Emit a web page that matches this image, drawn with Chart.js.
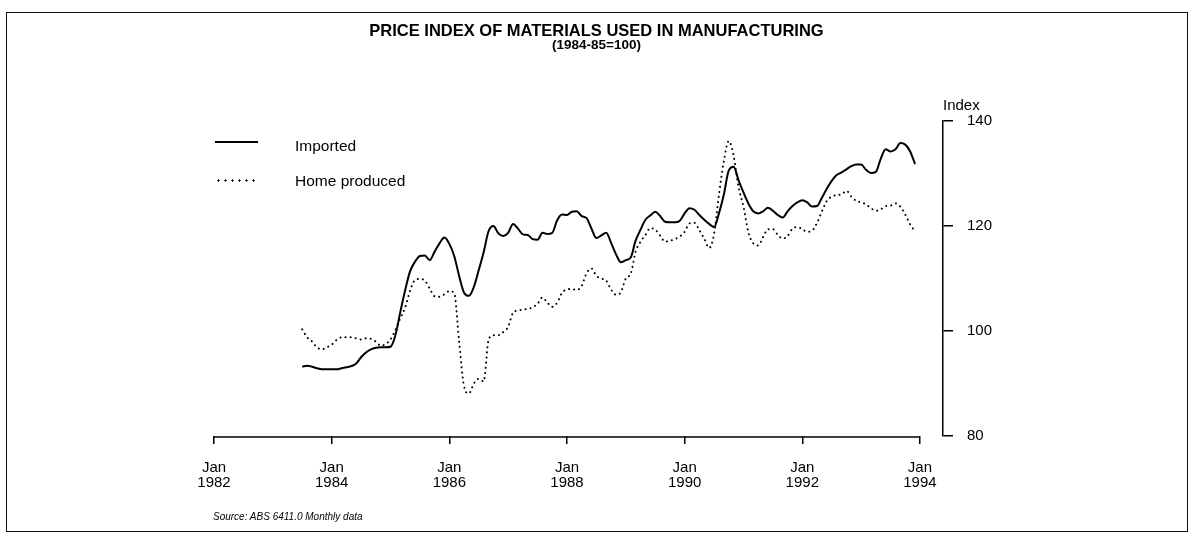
<!DOCTYPE html>
<html lang="en">
<head>
<meta charset="UTF-8">
<title>Price index of materials used in manufacturing</title>
<script src="https://cdn.jsdelivr.net/npm/chart.js"></script>
<style>
  html, body { margin: 0; padding: 0; background: #fff; }
  #wrap { position: relative; width: 1193px; height: 533px; font-family: "Liberation Sans", Arial, sans-serif; color: #000; }
  #frame { position: absolute; left: 6px; top: 12px; width: 1182px; height: 520px; border: 1.5px solid #111; box-sizing: border-box; }
  #chart { position: absolute; left: 0; top: 0; }
  .txt { position: absolute; white-space: nowrap; line-height: 16px; }
  .title { left: 0; width: 1193px; text-align: center; font-weight: bold; }
  .key { position: absolute; left: 215px; width: 43px; }
</style>
</head>
<body>
<div id="wrap">
  <div id="frame"></div>
  <canvas id="chart" width="1193" height="533"></canvas>

  <div class="txt title" style="top:22px; font-size:16.5px">PRICE INDEX OF MATERIALS USED IN MANUFACTURING</div>
  <div class="txt title" style="top:37px; font-size:13.5px">(1984-85=100)</div>

  <!-- legend -->
  <div class="key" style="top:141px; border-top:2px solid #000"></div>
  <div class="txt" style="left:295px; top:138px; font-size:15.5px">Imported</div>
  <div class="key" style="top:179px; height:3px; background:radial-gradient(circle, #000 0.9px, transparent 1.3px) 0 0/7px 3px repeat-x"></div>
  <div class="txt" style="left:295px; top:173px; font-size:15.5px">Home produced</div>

  <div class="txt" style="left:943px; top:97px; font-size:15px">Index</div>
  <div class="txt" style="left:213px; top:509px; font-size:10px; font-style:italic">Source: ABS 6411.0 Monthly data</div>
</div>

<script>
  // months counted from Jan 1982; first value is Jul 1983
  const startMonth = 18;

  const imported = [
    93.2, 93.4, 93.2, 92.9, 92.7, 92.7, 92.7, 92.7, 92.9, 93.1,
    93.3, 93.8, 95.0, 95.9, 96.5, 96.8, 96.9, 96.9, 97.0, 99.2,
    103.6, 107.8, 111.4, 113.2, 114.3, 114.4, 113.5, 115.1, 116.7, 117.8,
    116.6, 114.3, 110.5, 107.3, 106.7, 108.4, 111.6, 115.0, 119.0, 120.0,
    118.6, 118.1, 118.7, 120.4, 119.5, 118.4, 118.3, 117.5, 117.4, 118.7,
    118.5, 118.7, 121.1, 122.2, 122.1, 122.7, 122.8, 121.9, 121.5, 119.5,
    117.7, 118.2, 118.7, 116.8, 114.6, 113.1, 113.5, 114.0, 117.2, 119.3,
    121.2, 122.0, 122.7, 121.9, 120.8, 120.7, 120.7, 121.0, 122.4, 123.4,
    123.1, 122.1, 121.2, 120.4, 119.8, 122.4, 126.0, 130.6, 131.3, 128.7,
    126.4, 124.3, 122.8, 122.4, 122.8, 123.5, 122.9, 122.1, 121.6, 122.8,
    123.8, 124.5, 124.9, 124.5, 123.7, 123.8, 125.4, 127.1, 128.6, 129.7,
    130.2, 130.8, 131.4, 131.7, 131.7, 130.7, 130.1, 130.3, 132.8, 134.6,
    134.2, 134.6, 135.8, 135.5, 134.2, 131.8
  ];

  const homeProduced = [
    100.3, 98.8, 98.0, 96.9, 96.5, 96.9, 97.4, 98.3, 98.8, 98.8,
    98.8, 98.6, 98.4, 98.6, 98.5, 98.0, 97.2, 97.5, 98.4, 100.2,
    102.4, 104.5, 107.7, 109.7, 109.9, 109.6, 108.1, 106.6, 106.5, 107.0,
    107.6, 107.2, 98.0, 89.5, 88.1, 90.0, 90.9, 90.4, 98.3, 99.2,
    99.2, 99.8, 100.8, 103.5, 103.9, 104.1, 104.2, 104.5, 105.2, 106.4,
    105.4, 104.6, 105.4, 107.3, 107.9, 108.0, 107.8, 108.6, 111.0, 111.9,
    110.5, 110.0, 109.6, 107.9, 106.9, 107.4, 110.0, 110.9, 115.1, 117.0,
    118.3, 119.6, 119.3, 118.2, 117.0, 117.2, 117.5, 118.0, 118.9, 120.5,
    120.6, 119.2, 117.6, 115.8, 118.5, 126.0, 132.4, 136.2, 133.3, 127.4,
    123.7, 118.8, 116.7, 116.3, 117.9, 119.4, 119.4, 118.3, 117.6, 118.1,
    119.5, 119.8, 119.4, 118.9, 119.1, 120.6, 122.8, 124.8, 125.6, 125.9,
    126.0, 126.7, 125.6, 124.8, 124.5, 124.1, 123.4, 122.9, 123.2, 123.8,
    123.9, 124.3, 123.7, 122.2, 120.3, 119.0
  ];

  const tickMonths = [0, 24, 48, 72, 96, 120, 144];   // Jan 1982 ... Jan 1994
  const yTicks = [80, 100, 120, 140];

  const family = '"Liberation Sans", Arial, sans-serif';

  function toPoints(arr) {
    return arr.map((v, i) => ({ x: startMonth + i, y: v }));
  }

  // x axis line only runs from Jan 1982 to Jan 1994
  const xAxisLine = {
    id: 'xAxisLine',
    afterDraw(chart) {
      const sx = chart.scales.x;
      const ctx = chart.ctx;
      const y = chart.chartArea.bottom + 1;
      ctx.save();
      ctx.strokeStyle = '#000';
      ctx.lineWidth = 1.5;
      ctx.beginPath();
      ctx.moveTo(sx.getPixelForValue(tickMonths[0]), y);
      ctx.lineTo(sx.getPixelForValue(tickMonths[tickMonths.length - 1]), y);
      ctx.stroke();
      ctx.restore();
    }
  };

  new Chart(document.getElementById('chart'), {
    type: 'line',
    data: {
      datasets: [
        {
          label: 'Imported',
          data: toPoints(imported),
          borderColor: '#000',
          borderWidth: 2,
          pointRadius: 0,
          fill: false,
          cubicInterpolationMode: 'monotone'
        },
        {
          label: 'Home produced',
          data: toPoints(homeProduced),
          borderColor: '#000',
          borderWidth: 2,
          borderDash: [0.1, 5],
          borderCapStyle: 'round',
          pointRadius: 0,
          fill: false,
          cubicInterpolationMode: 'monotone'
        }
      ]
    },
    options: {
      responsive: false,
      animation: false,
      devicePixelRatio: 1,
      layout: { padding: { left: 214, top: 121, right: 180, bottom: 37 } },
      plugins: {
        legend: { display: false },
        tooltip: { enabled: false }
      },
      scales: {
        x: {
          type: 'linear',
          min: 0,
          max: 148.7,
          afterFit: s => { s.height = 60; },
          afterBuildTicks: s => { s.ticks = tickMonths.map(v => ({ value: v })); },
          grid: { drawOnChartArea: false, drawTicks: true, tickLength: 8, color: '#000', lineWidth: 1.5 },
          border: { display: false },
          ticks: {
            callback: v => ['Jan', String(1982 + v / 12)],
            color: '#000',
            font: { family: family, size: 15, lineHeight: 1.0 },
            padding: 16,
            maxRotation: 0,
            autoSkip: false
          }
        },
        y: {
          position: 'right',
          min: 80,
          max: 140,
          afterFit: s => { s.width = 70; },
          afterBuildTicks: s => { s.ticks = yTicks.map(v => ({ value: v })); },
          grid: { drawOnChartArea: false, drawTicks: true, tickLength: 10, color: '#000', lineWidth: 1.5 },
          border: { display: true, color: '#000', width: 1.5 },
          ticks: { color: '#000', font: { family: family, size: 15 }, padding: 14 }
        }
      }
    },
    plugins: [xAxisLine]
  });
</script>
</body>
</html>
